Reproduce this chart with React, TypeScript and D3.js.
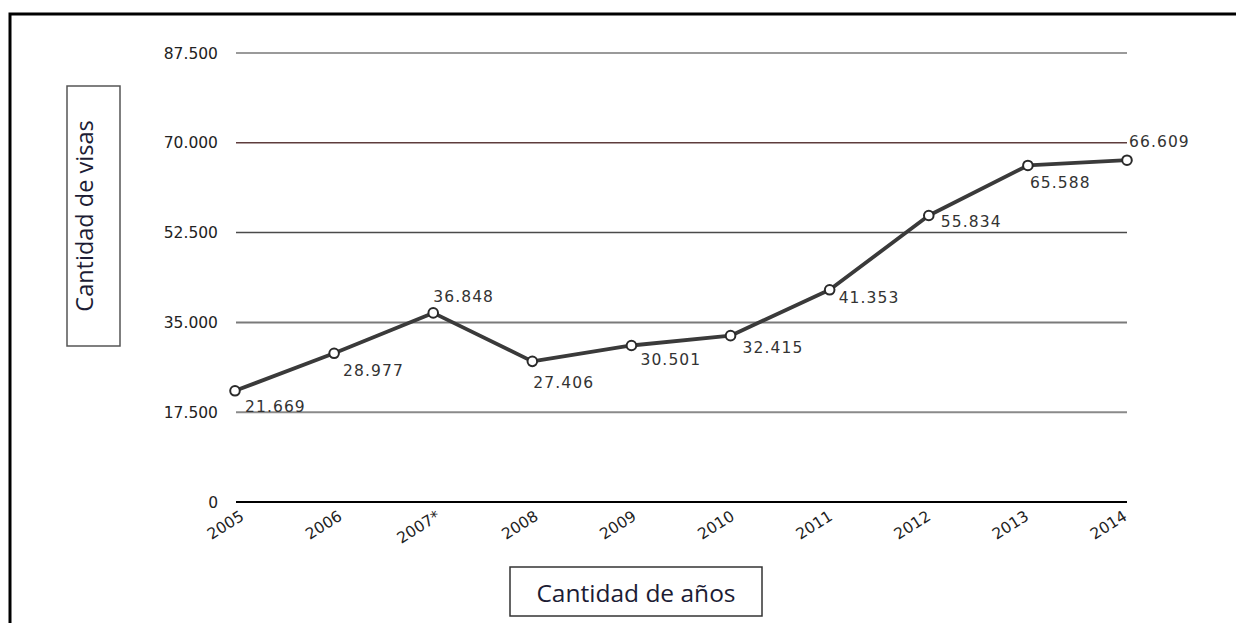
import React from 'react';
import * as d3 from 'd3';

const years = ['2005', '2006', '2007*', '2008', '2009', '2010', '2011', '2012', '2013', '2014'];
const visas = [21669, 28977, 36848, 27406, 30501, 32415, 41353, 55834, 65588, 66609];
const yTicks = [0, 17500, 35000, 52500, 70000, 87500];
const gridColors = ['#000', '#8a8a8a', '#7a7a7a', '#4a4a4a', '#5e3c3c', '#9a9a9a'];
// label offsets relative to each point [dx, dy]
const labelOffsets: [number, number][] = [
  [10, 21], [9, 23], [0, -11], [1, 27], [9, 20], [12, 17], [9, 13], [12, 12], [2, 23], [2, -13],
];

const fmt = (v: number) => d3.format(',')(v).replace(/,/g, '.');

export default function App() {
  const W = 1236;
  const H = 623;
  const x = d3.scalePoint<string>().domain(years).range([235, 1127]);
  const xLab = d3.scalePoint<string>().domain(years).range([245, 1128]);
  const y = d3.scaleLinear().domain([0, 87500]).range([502, 53]);

  const line = d3.line<number>()
    .x((_, i) => x(years[i]) as number)
    .y(d => y(d));

  const numFont = '"DejaVu Sans", Verdana, sans-serif';
  const titleFont = '"Open Sans", sans-serif';

  return (
    <svg width={W} height={H} style={{ position: 'absolute', left: 0, top: 0, background: '#fff' }}>
      {/* outer frame */}
      <path d={`M10,${H} V14 H${W}`} fill="none" stroke="#000" strokeWidth={3} />

      {/* gridlines + y labels */}
      {yTicks.map((t, i) => (
        <g key={t}>
          <line x1={236} x2={1127} y1={y(t)} y2={y(t)}
            stroke={gridColors[i]} strokeWidth={i === 0 ? 2 : i === 4 || i === 3 ? 1.5 : 2} />
          <text x={218} y={y(t) + 5.5} textAnchor="end" fontFamily={numFont}
            fontSize={15.5} fill="#222">{fmt(t)}</text>
        </g>
      ))}

      {/* x tick labels */}
      {years.map(yr => (
        <text key={yr} transform={`translate(${xLab(yr) as number},${519}) rotate(-32)`}
          textAnchor="end" fontFamily={numFont} fontSize={15.5} fill="#222">{yr}</text>
      ))}

      {/* series */}
      <path d={line(visas) as string} fill="none" stroke="#3a3a3a" strokeWidth={3.8}
        strokeLinejoin="round" />
      {visas.map((v, i) => (
        <circle key={i} cx={x(years[i]) as number} cy={y(v)} r={4.8}
          fill="#fff" stroke="#2a2a2a" strokeWidth={2} />
      ))}
      {visas.map((v, i) => (
        <text key={'l' + i} x={(x(years[i]) as number) + labelOffsets[i][0]}
          y={y(v) + labelOffsets[i][1]} fontFamily={numFont} fontSize={15.5}
          fill="#333" letterSpacing={1.1}>{fmt(v)}</text>
      ))}

      {/* y axis title box */}
      <rect x={67} y={86} width={53} height={260} fill="#fff" stroke="#555" strokeWidth={1.5} />
      <text transform="translate(93,216) rotate(-90)" textAnchor="middle"
        fontFamily={titleFont} fontSize={23.5} fill="#1c1c34">Cantidad de visas</text>

      {/* x axis title box */}
      <rect x={510} y={567} width={252} height={49} fill="#fff" stroke="#333" strokeWidth={1.5} />
      <text x={636} y={602} textAnchor="middle"
        fontFamily={titleFont} fontSize={24.5} fill="#1c1c34">Cantidad de años</text>
    </svg>
  );
}
